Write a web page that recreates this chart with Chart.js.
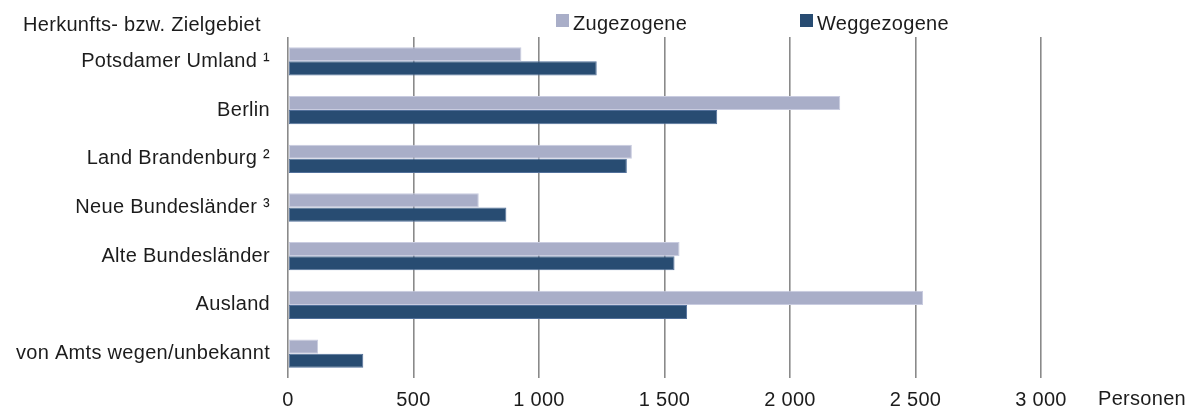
<!DOCTYPE html>
<html>
<head>
<meta charset="utf-8">
<script src="https://cdn.jsdelivr.net/npm/chart.js@4"></script>
<style>
  html, body { margin: 0; padding: 0; background: #fff; }
  #wrap { width: 1188px; height: 410px; position: relative; }
</style>
</head>
<body>
<div id="wrap"><canvas id="chart"></canvas></div>
<script>
// Wanderungen nach Herkunfts- bzw. Zielgebiet
const categories = [
    'Potsdamer Umland \u00b9',
    'Berlin',
    'Land Brandenburg \u00b2',
    'Neue Bundesl\u00e4nder \u00b3',
    'Alte Bundesl\u00e4nder',
    'Ausland',
    'von Amts wegen/unbekannt'
];
const zugezogene = [930, 2200, 1370, 760, 1560, 2530, 120];
const weggezogene = [1230, 1710, 1350, 870, 1540, 1590, 300];
const seriesNames = ['Zugezogene', 'Weggezogene'];
const xTicks = [0, 500, 1000, 1500, 2000, 2500, 3000];

const FONT = '"Liberation Sans", Arial, sans-serif';
const TEXT = '#1c1c1c';
const SPACING = '0.3px';

// slightly wider lettering for every text on the canvas
const spacing = {
    id: 'spacing',
    beforeDraw(chart) { chart.ctx.letterSpacing = SPACING; }
};

// title, legend and axis unit drawn by hand
const extras = {
    id: 'extras',
    afterDraw(chart) {
        const ctx = chart.ctx;
        ctx.save();
        ctx.letterSpacing = SPACING;
        ctx.font = '20px ' + FONT;
        ctx.fillStyle = TEXT;
        ctx.textBaseline = 'alphabetic';
        ctx.textAlign = 'left';
        ctx.fillText('Herkunfts- bzw. Zielgebiet', 23, 31);

        const legendX = [556, 800];
        chart.data.datasets.forEach((ds, i) => {
            ctx.fillStyle = ds.backgroundColor;
            ctx.fillRect(legendX[i], 14, 13, 13);
            ctx.fillStyle = TEXT;
            ctx.fillText(ds.label, legendX[i] + 17, 30);
        });

        const xs = chart.scales.x;
        ctx.fillText('Personen', xs.right + 57, 405);
        ctx.restore();
    }
};

new Chart(document.getElementById('chart'), {
    type: 'bar',
    data: {
        labels: categories,
        datasets: [{
            label: seriesNames[0],
            data: zugezogene,
            backgroundColor: '#a9aec8',
            borderColor: '#c9cce0',
            borderWidth: 1,
            borderSkipped: false
        }, {
            label: seriesNames[1],
            data: weggezogene,
            backgroundColor: '#284c72',
            borderColor: '#52709a',
            borderWidth: 1,
            borderSkipped: false
        }]
    },
    options: {
        indexAxis: 'y',
        responsive: true,
        maintainAspectRatio: false,
        animation: false,
        categoryPercentage: 0.58,
        barPercentage: 1.0,
        layout: { padding: { top: 37, right: 147, bottom: 0, left: 0 } },
        plugins: {
            legend: { display: false },
            tooltip: { enabled: false }
        },
        scales: {
            x: {
                min: 0,
                max: 3000,
                afterBuildTicks: (s) => { s.ticks = xTicks.map(v => ({ value: v })); },
                afterFit: (s) => { s.height = 32; },
                grid: { color: '#8a8a8a', lineWidth: 1.6, drawTicks: false },
                border: { display: false },
                ticks: {
                    padding: 10,
                    color: TEXT,
                    font: { family: FONT, size: 20 },
                    maxRotation: 0,
                    callback: (v) => String(v).replace(/\B(?=(\d{3})+(?!\d))/g, ' ')
                }
            },
            y: {
                afterFit: (s) => { s.width = 288; },
                grid: { display: false, drawTicks: false },
                border: { display: false },
                ticks: {
                    padding: 18,
                    color: TEXT,
                    font: { family: FONT, size: 20 }
                }
            }
        }
    },
    plugins: [spacing, extras]
});
</script>
</body>
</html>
